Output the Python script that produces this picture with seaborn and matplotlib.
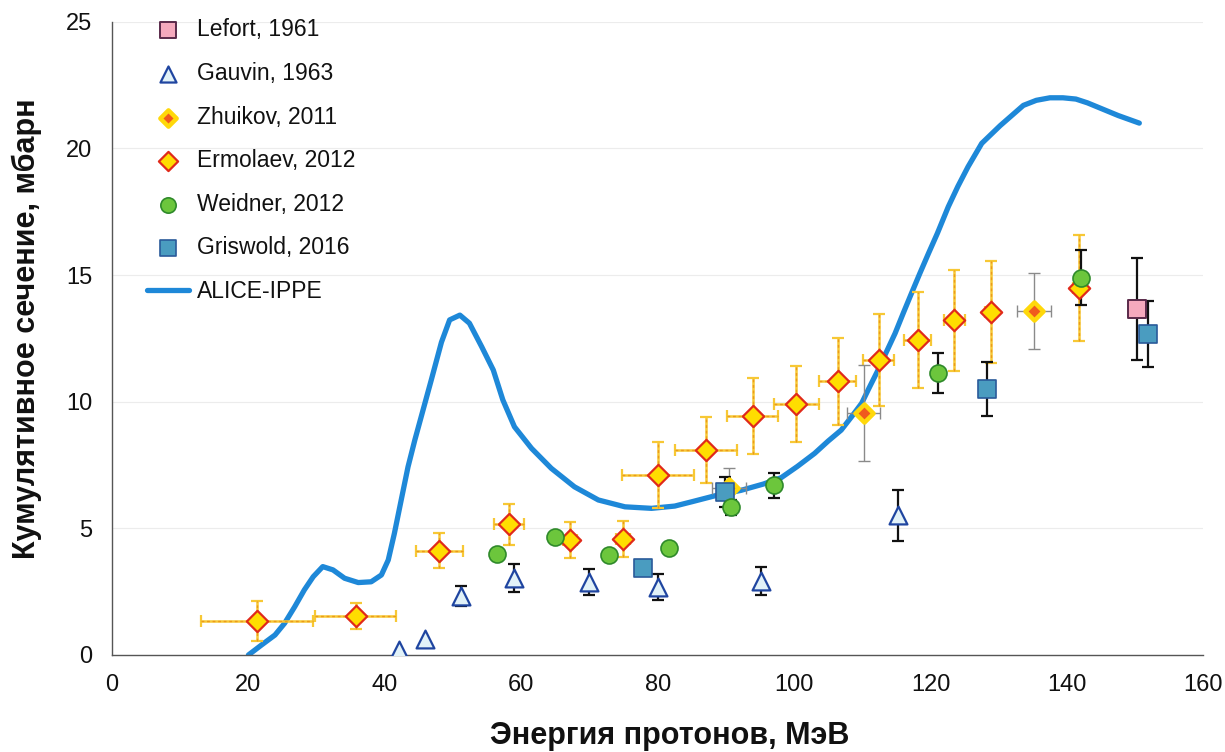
import numpy as np
import pandas as pd
import matplotlib
matplotlib.use("Agg")
import matplotlib.pyplot as plt
import seaborn as sns

# ---------------- data ----------------
lefort_x = [150.2]
lefort_y = [13.66]
lefort_yerr = [2.0]

gauvin_x = [42.1, 45.9, 51.1, 59.0, 70.0, 80.1, 95.1, 115.2]
gauvin_y = [0.2, 0.63, 2.33, 3.04, 2.88, 2.68, 2.92, 5.52]
gauvin_yerr = [np.nan, np.nan, 0.4, 0.55, 0.5, 0.5, 0.55, 1.0]

zhuikov_x = [90.4, 110.2, 135.2]
zhuikov_y = [6.6, 9.55, 13.6]
zhuikov_xerr = [2.5, 2.4, 2.5]
zhuikov_yerr = [0.8, 1.9, 1.5]

ermolaev_x = [21.2, 35.7, 48.0, 58.2, 67.1, 74.9, 80.0, 87.1, 93.9, 100.3,
              106.4, 112.4, 118.1, 123.5, 128.8, 141.7]
ermolaev_y = [1.34, 1.54, 4.12, 5.16, 4.54, 4.58, 7.1, 8.09, 9.43, 9.9,
              10.8, 11.65, 12.44, 13.22, 13.54, 14.5]
ermolaev_xerr = [8.2, 5.9, 3.4, 2.2, 1.0, 1.0, 5.3, 4.5, 3.8, 3.3,
                 2.7, 2.3, 2.0, 1.5, 0.8, 0.8]
ermolaev_yerr = [0.8, 0.5, 0.7, 0.8, 0.7, 0.7, 1.3, 1.3, 1.5, 1.5,
                 1.7, 1.8, 1.9, 2.0, 2.0, 2.1]

weidner_x = [56.4, 64.9, 72.8, 81.7, 90.8, 97.1, 121.1, 142.0]
weidner_y = [3.99, 4.66, 3.95, 4.22, 5.83, 6.7, 11.13, 14.9]
weidner_yerr = [0.15, 0.15, 0.15, 0.15, 0.3, 0.5, 0.8, 1.1]

griswold_x = [77.9, 89.8, 128.2, 151.8]
griswold_y = [3.43, 6.43, 10.5, 12.67]
griswold_yerr = [0.2, 0.6, 1.05, 1.3]

alice_x = [20.0, 21.9, 23.9, 25.3, 26.8, 28.2, 29.5, 30.9, 32.4, 34.1, 36.1,
           38.0, 39.5, 40.5, 41.4, 42.4, 43.4, 44.4, 45.6, 46.8, 48.3, 49.5,
           51.0, 52.4, 54.2, 55.9, 57.3, 59.0, 61.5, 64.4, 67.8, 71.3, 75.2,
           79.1, 82.5, 85.0, 88.3, 92.2, 95.5, 98.1, 100.5, 103.0, 105.0,
           106.9, 108.4, 109.9, 111.0, 112.3, 113.5, 114.8, 116.0, 117.2,
           118.4, 119.7, 121.0, 122.6, 124.0, 125.5, 127.5, 130.2, 133.6,
           135.5, 137.5, 139.4, 141.3, 143.0, 144.8, 147.5, 150.6]
alice_y = [0.0, 0.39, 0.79, 1.25, 1.91, 2.57, 3.09, 3.49, 3.36, 3.03, 2.86,
           2.89, 3.16, 3.75, 4.80, 6.12, 7.43, 8.49, 9.67, 10.85, 12.35, 13.23,
           13.42, 13.1, 12.17, 11.25, 10.07, 9.01, 8.16, 7.37, 6.64, 6.12, 5.85,
           5.79, 5.88, 6.05, 6.28, 6.5, 6.75, 7.0, 7.45, 7.96, 8.45,
           8.88, 9.4, 9.94, 10.55, 11.25, 11.95, 12.7, 13.5, 14.28,
           15.05, 15.86, 16.65, 17.7, 18.5, 19.28, 20.2, 20.9, 21.7,
           21.9, 22.0, 22.0, 21.95, 21.8, 21.6, 21.3, 21.0]

x_ticks = [0, 20, 40, 60, 80, 100, 120, 140, 160]
y_ticks = [0, 5, 10, 15, 20, 25]

# ---------------- style ----------------
sns.set_style("white")
plt.rcParams["font.family"] = ["Liberation Sans", "DejaVu Sans"]

fig = plt.figure(figsize=(12.25, 7.52), dpi=100)
ax = fig.add_axes([0.0914, 0.129, 0.891, 0.842])

for yv in y_ticks[1:]:
    ax.axhline(yv, color="#ececec", lw=0.8, zorder=0)

# curve
alice_df = pd.DataFrame({"x": alice_x, "y": alice_y})
sns.lineplot(data=alice_df, x="x", y="y", ax=ax, color="#1e88d8", lw=3.8,
             sort=False, estimator=None, zorder=2, label="ALICE-IPPE")
for ln in ax.get_lines():
    ln.set_solid_joinstyle("round")
    ln.set_solid_capstyle("round")

# error bars
ax.errorbar(ermolaev_x, ermolaev_y, xerr=ermolaev_xerr, yerr=ermolaev_yerr,
            fmt="none", ecolor="#f7c835", elinewidth=1.8, capsize=4,
            capthick=1.6, zorder=3)
eb2 = ax.errorbar(ermolaev_x, ermolaev_y, xerr=ermolaev_xerr, yerr=ermolaev_yerr,
                  fmt="none", ecolor="#ec9a1a", elinewidth=1.0, capsize=0,
                  zorder=3)
for coll in eb2[2]:
    coll.set_linestyle((0, (2, 2)))
ax.errorbar(zhuikov_x, zhuikov_y, xerr=zhuikov_xerr, yerr=zhuikov_yerr,
            fmt="none", ecolor="#8a8a8a", elinewidth=1.0, capsize=4,
            capthick=1.0, zorder=3)
ax.errorbar(weidner_x, weidner_y, yerr=weidner_yerr, fmt="none",
            ecolor="#111111", elinewidth=1.6, capsize=4, capthick=1.6, zorder=3)
ax.errorbar(griswold_x, griswold_y, yerr=griswold_yerr, fmt="none",
            ecolor="#111111", elinewidth=1.6, capsize=4, capthick=1.6, zorder=3)
ax.errorbar(lefort_x, lefort_y, yerr=lefort_yerr, fmt="none",
            ecolor="#111111", elinewidth=1.6, capsize=4, capthick=1.6, zorder=3)
ax.errorbar(gauvin_x, gauvin_y, yerr=gauvin_yerr, fmt="none",
            ecolor="#111111", elinewidth=1.6, capsize=4, capthick=1.6, zorder=3)

# markers
sns.scatterplot(x=ermolaev_x, y=ermolaev_y, ax=ax, marker="D", s=118,
                color="#ffdd00", edgecolor="#e02a1a", linewidth=1.6,
                zorder=4, label="Ermolaev, 2012")
sns.scatterplot(x=zhuikov_x, y=zhuikov_y, ax=ax, marker="D", s=85,
                color="#f05a1e", edgecolor="#ffd80a", linewidth=3.2,
                zorder=4, label="Zhuikov, 2011")
sns.scatterplot(x=gauvin_x, y=gauvin_y, ax=ax, marker="^", s=165,
                color="#e2f2f8", edgecolor="#1f45a0", linewidth=1.6,
                zorder=5, label="Gauvin, 1963")
sns.scatterplot(x=griswold_x, y=griswold_y, ax=ax, marker="s", s=150,
                color="#4a9cc0", edgecolor="#2a5a9a", linewidth=1.2,
                zorder=5, label="Griswold, 2016")
sns.scatterplot(x=weidner_x, y=weidner_y, ax=ax, marker="o", s=150,
                color="#6cc63c", edgecolor="#2f8a2a", linewidth=1.2,
                zorder=6, label="Weidner, 2012")
sns.scatterplot(x=lefort_x, y=lefort_y, ax=ax, marker="s", s=150,
                color="#f5a9bd", edgecolor="#5a2a4a", linewidth=1.4,
                zorder=5, label="Lefort, 1961")

# axes
ax.set_xlim(0, 160)
ax.set_ylim(0, 25)
ax.set_xticks(x_ticks)
ax.set_yticks(y_ticks)
ax.tick_params(axis="both", which="major", labelsize=17, length=6, width=1,
               direction="out", pad=8)
ax.tick_params(axis="x", colors="#555555", labelcolor="#111111")
ax.tick_params(axis="y", colors="#555555", labelcolor="#111111")
for side in ["top", "right"]:
    ax.spines[side].set_visible(False)
for side in ["left", "bottom"]:
    ax.spines[side].set_color("#555555")
    ax.spines[side].set_linewidth(1.0)

ax.set_xlabel("Энергия протонов, МэВ", fontsize=22, fontweight="bold",
              color="#111111")
ax.set_ylabel("Кумулятивное сечение, мбарн", fontsize=22, fontweight="bold",
              color="#111111")
ax.xaxis.set_label_coords(0.511, -0.105)
ax.yaxis.set_label_coords(-0.064, 0.515)

# legend in specific order
handles, labels = ax.get_legend_handles_labels()
hmap = dict(zip(labels, handles))
order = ["Lefort, 1961", "Gauvin, 1963", "Zhuikov, 2011", "Ermolaev, 2012",
         "Weidner, 2012", "Griswold, 2016", "ALICE-IPPE"]
leg = ax.legend([hmap[k] for k in order], order, loc="upper left",
                bbox_to_anchor=(0.024, 1.02), frameon=False, fontsize=16.5,
                markerscale=0.9, labelspacing=0.9, handlelength=1.8,
                handletextpad=0.35, borderaxespad=0.0)
for t in leg.get_texts():
    t.set_color("#111111")

fig.savefig("out.png", dpi=100)
